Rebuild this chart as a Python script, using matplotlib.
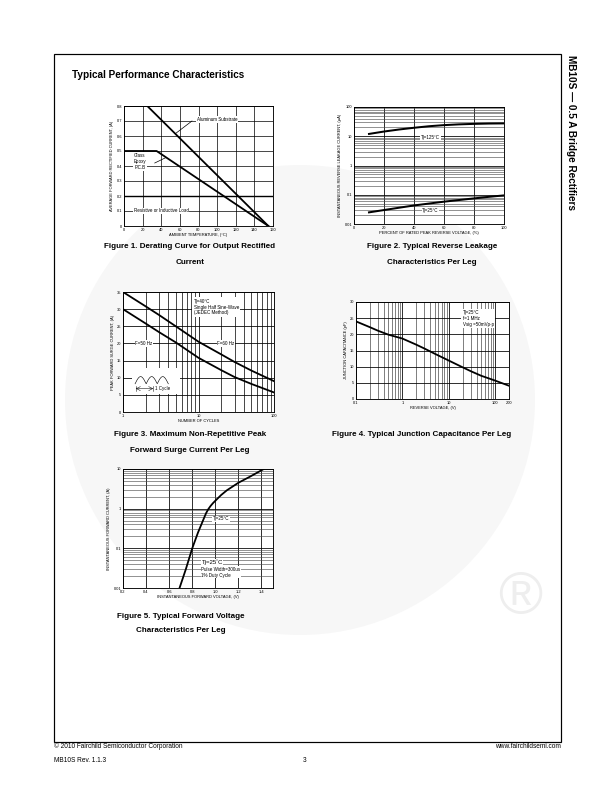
import numpy as np
import matplotlib
matplotlib.use("Agg")
import matplotlib.pyplot as plt
from matplotlib.patches import Rectangle, Ellipse
from matplotlib.ticker import NullFormatter, LogLocator

plt.rcParams['font.family'] = ['Liberation Sans', 'DejaVu Sans']

# ---- data ----
# Fig 1: derating
temp_al = [0, 25, 155]
cur_al = [0.8, 0.8, 0.0]
temp_ge = [0, 35, 155]
cur_ge = [0.5, 0.5, 0.0]

# Fig 2: reverse leakage
pct_vr = [10, 20, 30, 40, 50, 60, 70, 80, 90, 100]
ir_125 = [12, 14.5, 17, 19.5, 22, 24, 25.5, 26.5, 27.2, 27.5]
ir_25 = [0.025, 0.030, 0.036, 0.043, 0.050, 0.058, 0.066, 0.075, 0.085, 0.095]

# Fig 3: surge current
cycles = [1, 2, 3, 5, 10, 20, 30, 50, 100]
ifsm_60 = [35, 30.8, 28.3, 25, 20.5, 16.8, 14.6, 12.1, 9]
ifsm_50 = [30, 25.8, 23.3, 20.3, 15.8, 12.2, 10.2, 8.2, 5.7]

# Fig 4: junction capacitance
vr = [0.1, 0.2, 0.3, 0.5, 1, 2, 3, 5, 10, 20, 30, 50, 100, 200]
cj = [24, 22.2, 21.1, 19.9, 18.7, 16.8, 15.6, 14, 11.9, 9.8, 8.6, 7.2, 5.7, 4.1]

# Fig 5: forward voltage
vf = [0.69, 0.745, 0.8, 0.85, 0.9, 0.92, 0.94, 0.96, 0.98, 1.0, 1.05, 1.1, 1.2, 1.3, 1.42]
ifwd = [0.01, 0.03, 0.1, 0.25, 0.56, 0.77, 0.98, 1.18, 1.38, 1.58, 2.2, 2.9, 4.5, 6.4, 10]

W, H = 612, 792
fig = plt.figure(figsize=(W / 72, H / 72), dpi=72)


def box(x0, y0, x1, y1):
    # pixel box -> figure fraction rect
    return [x0 / W, 1 - y1 / H, (x1 - x0) / W, (y1 - y0) / H]


def ftext(x, y, s, **kw):
    fig.text(x / W, 1 - y / H, s, **kw)


# faint logo watermark (behind everything)
fig.add_artist(Ellipse((300 / W, 1 - 400 / H), 470 / W, 470 / H,
                       transform=fig.transFigure, fc='#f7f7f7', ec='none', zorder=-5))
ftext(520, 598, '®', fontsize=60, color='#eeeeee', ha='center', va='center', zorder=-4)

# page frame
fig.add_artist(Rectangle((54 / W, 1 - 742 / H), (561 - 54) / W, (742 - 54) / H,
                         transform=fig.transFigure, fill=False, ec='black', lw=1.2, zorder=5))

ftext(72, 75, 'Typical Performance Characteristics', fontsize=10, fontweight='bold', va='center')
ftext(571, 55, 'MB10S — 0.5 A Bridge Rectifiers', fontsize=10, fontweight='bold',
      rotation=-90, ha='center', va='top')

ftext(54, 746, '© 2010 Fairchild Semiconductor Corporation', fontsize=6.5, va='center')
ftext(561, 746, 'www.fairchildsemi.com', fontsize=6.5, va='center', ha='right')
ftext(54, 760, 'MB10S Rev. 1.1.3', fontsize=6.5, va='center')
ftext(305, 760, '3', fontsize=6.5, va='center', ha='center')

TS = 4
WB = dict(fc='white', ec='none', pad=0.6)


def style(ax, xlabel, ylabel):
    ax.set_xlabel(xlabel, fontsize=TS, labelpad=1)
    ax.set_ylabel(ylabel, fontsize=TS, labelpad=2)
    ax.tick_params(which='both', length=0, labelsize=TS, pad=2)
    for s in ax.spines.values():
        s.set_linewidth(0.9)
    ax.set_axisbelow(True)


# ---- Figure 1 ----
ax1 = fig.add_axes(box(124, 106, 273, 226))
ax1.plot(temp_al, cur_al, 'k-', lw=1.8)
ax1.plot(temp_ge, cur_ge, 'k-', lw=1.8)
ax1.set_xlim(0, 160)
ax1.set_ylim(0, 0.8)
ax1.set_xticks(range(0, 161, 20))
ax1.set_yticks(np.arange(0, 0.81, 0.1))
ax1.set_yticklabels(['0', '0.1', '0.2', '0.3', '0.4', '0.5', '0.6', '0.7', '0.8'])
ax1.grid(True, color='black', lw=0.7)
ax1.axhline(0.2, color='black', lw=1.4, zorder=0.5)
ax1.text(100, 0.71, 'Aluminum Substrate', fontsize=4.5, ha='center', va='center', bbox=WB)
ax1.plot([73, 55], [0.70, 0.615], 'k-', lw=0.7)
ax1.text(17, 0.43, 'Glass\nEpoxy\nP.C.B', fontsize=4.5, ha='center', va='center',
         linespacing=1.3, bbox=WB)
ax1.plot([33, 44.6], [0.42, 0.455], 'k-', lw=0.7)
ax1.text(40, 0.1, 'Resistive or Inductive Load', fontsize=4.5, ha='center', va='center', bbox=WB)
style(ax1, 'AMBIENT TEMPERATURE, (°C)', 'AVERAGE FORWARD RECTIFIED CURRENT, (A)')
ftext(190, 247, 'Figure 1. Derating Curve for Output Rectified', fontsize=8,
      fontweight='bold', ha='center', va='center')
ftext(190, 262, 'Current', fontsize=8, fontweight='bold', ha='center', va='center')

# ---- Figure 2 ----
ax2 = fig.add_axes(box(354, 107, 504, 224))
ax2.plot(pct_vr, ir_125, 'k-', lw=2)
ax2.plot(pct_vr, ir_25, 'k-', lw=2)
ax2.set_yscale('log')
ax2.set_xlim(0, 100)
ax2.set_ylim(0.01, 100)
ax2.set_xticks(range(0, 101, 20))
ax2.set_yticks([0.01, 0.1, 1, 10, 100])
ax2.set_yticklabels(['0.01', '0.1', '1', '10', '100'])
ax2.yaxis.set_minor_locator(LogLocator(subs=np.arange(2, 10)))
ax2.yaxis.set_minor_formatter(NullFormatter())
ax2.grid(True, which='major', color='black', lw=0.8)
ax2.grid(True, which='minor', axis='y', color='0.3', lw=0.6)
ax2.text(51, 9.3, 'Tj=125°C', fontsize=4.5, ha='center', va='center', bbox=WB)
ax2.text(51, 0.029, 'Tj=25°C', fontsize=4.5, ha='center', va='center', bbox=WB)
style(ax2, 'PERCENT OF RATED PEAK REVERSE VOLTAGE, (%)',
      'INSTANTANEOUS REVERSE LEAKAGE CURRENT, (µA)')
ftext(432, 247, 'Figure 2. Typical Reverse Leakage', fontsize=8,
      fontweight='bold', ha='center', va='center')
ftext(432, 262, 'Characteristics Per Leg', fontsize=8, fontweight='bold', ha='center', va='center')

# ---- Figure 3 ----
ax3 = fig.add_axes(box(123, 292, 274, 412))
ax3.plot(cycles, ifsm_60, 'k-', lw=1.8)
ax3.plot(cycles, ifsm_50, 'k-', lw=1.8)
ax3.set_xscale('log')
ax3.set_xlim(1, 100)
ax3.set_ylim(0, 35)
ax3.set_xticks([1, 10, 100])
ax3.set_xticklabels(['1', '10', '100'])
ax3.xaxis.set_minor_locator(LogLocator(subs=np.arange(2, 10)))
ax3.xaxis.set_minor_formatter(NullFormatter())
ax3.set_yticks(range(0, 36, 5))
ax3.grid(True, which='major', color='black', lw=0.8)
ax3.grid(True, which='minor', axis='x', color='black', lw=0.7)
ax3.text(1.9, 20, 'F=50 Hz', fontsize=4.5, ha='center', va='center', bbox=WB)
ax3.text(23, 20, 'F=60 Hz', fontsize=4.5, ha='center', va='center', bbox=WB)
ax3.text(8.6, 33, 'Tj=40°C\nSingle Half Sine-Wave\n(JEDEC Method)', fontsize=4.5,
         ha='left', va='top', linespacing=1.2, bbox=dict(fc='white', ec='none', pad=1.5))
# half-sine cycle sketch
ax3.add_patch(Rectangle((0.06, 0.15), 0.32, 0.22, transform=ax3.transAxes,
                        fc='white', ec='none', zorder=1.5))
ph = np.linspace(0, 3 * np.pi, 200)
ax3.plot(0.08 + 0.22 * ph / (3 * np.pi), 0.235 + 0.06 * np.abs(np.sin(ph)),
         'k-', lw=0.6, transform=ax3.transAxes, zorder=2)
ax3.annotate('', xy=(0.2, 0.195), xytext=(0.085, 0.195), xycoords='axes fraction',
             arrowprops=dict(arrowstyle='<->', lw=0.5, shrinkA=0, shrinkB=0))
ax3.plot([0.085, 0.085], [0.175, 0.215], 'k-', lw=0.5, transform=ax3.transAxes, zorder=2)
ax3.plot([0.2, 0.2], [0.175, 0.215], 'k-', lw=0.5, transform=ax3.transAxes, zorder=2)
ax3.text(0.215, 0.195, '1 Cycle', fontsize=4.5, transform=ax3.transAxes, va='center', zorder=2)
style(ax3, 'NUMBER OF CYCLES', 'PEAK FORWARD SURGE CURRENT, (A)')
ftext(190, 435, 'Figure 3. Maximum Non-Repetitive Peak', fontsize=8,
      fontweight='bold', ha='center', va='center')
ftext(190, 450, 'Forward Surge Current Per Leg', fontsize=8, fontweight='bold',
      ha='center', va='center')

# ---- Figure 4 ----
ax4 = fig.add_axes(box(356, 302, 509, 399))
ax4.plot(vr, cj, 'k-', lw=1.8)
ax4.set_xscale('log')
ax4.set_xlim(0.1, 200)
ax4.set_ylim(0, 30)
ax4.set_xticks([0.1, 1, 10, 100, 200])
ax4.set_xticklabels(['0.1', '1', '10', '100', '200'])
ax4.xaxis.set_minor_locator(LogLocator(subs=np.arange(2, 10)))
ax4.xaxis.set_minor_formatter(NullFormatter())
ax4.set_yticks(range(0, 31, 5))
ax4.grid(True, which='major', color='black', lw=0.8)
ax4.grid(True, which='minor', axis='x', color='0.3', lw=0.7)
ax4.text(20, 27.5, 'Tj=25°C\nf=1 MHz\nVsig =50mVp-p', fontsize=4.5, ha='left', va='top',
         linespacing=1.2, bbox=dict(fc='white', ec='none', pad=1.5))
style(ax4, 'REVERSE VOLTAGE, (V)', 'JUNCTION CAPACITANCE (pF)')
ftext(422, 435, 'Figure 4. Typical Junction Capacitance Per Leg', fontsize=8,
      fontweight='bold', ha='center', va='center')

# ---- Figure 5 ----
ax5 = fig.add_axes(box(123, 469, 273, 588))
ax5.plot(vf, ifwd, 'k-', lw=1.8)
ax5.set_yscale('log')
ax5.set_xlim(0.2, 1.5)
ax5.set_ylim(0.01, 10)
ax5.set_xticks([0.2, 0.4, 0.6, 0.8, 1.0, 1.2, 1.4])
ax5.set_xticklabels(['0.2', '0.4', '0.6', '0.8', '1.0', '1.2', '1.4'])
ax5.set_yticks([0.01, 0.1, 1, 10])
ax5.set_yticklabels(['0.01', '0.1', '1', '10'])
ax5.yaxis.set_minor_locator(LogLocator(subs=np.arange(2, 10)))
ax5.yaxis.set_minor_formatter(NullFormatter())
ax5.grid(True, which='major', color='black', lw=0.8)
ax5.grid(True, which='minor', axis='y', color='0.3', lw=0.6)
ax5.text(1.05, 0.56, 'Tj=25°C', fontsize=4.5, ha='center', va='center', bbox=WB)
ax5.text(0.88, 0.045, 'Tj=25˚C', fontsize=6, ha='left', va='center', bbox=WB)
ax5.text(0.88, 0.025, 'Pulse Width=300us\n1% Duty Cycle', fontsize=4.5, ha='left', va='center',
         linespacing=1.2, bbox=WB)
style(ax5, 'INSTANTANEOUS FORWARD VOLTAGE, (V)', 'INSTANTANEOUS FORWARD CURRENT, (A)')
ftext(181, 617, 'Figure 5. Typical Forward Voltage', fontsize=8,
      fontweight='bold', ha='center', va='center')
ftext(181, 631, 'Characteristics Per Leg', fontsize=8, fontweight='bold', ha='center', va='center')

fig.savefig('out.png', dpi=72)
